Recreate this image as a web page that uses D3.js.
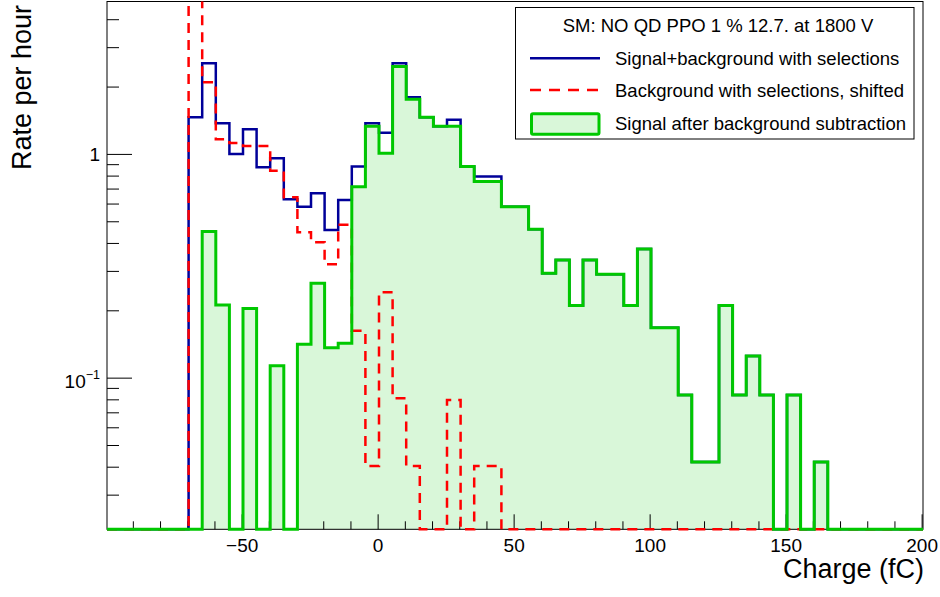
<!DOCTYPE html>
<html>
<head>
<meta charset="utf-8">
<script src="https://cdn.jsdelivr.net/npm/d3@7"></script>
<style>
  html, body { margin: 0; padding: 0; background: #fff; }
  svg { display: block; font-family: "Liberation Sans", Arial, Helvetica, sans-serif; }
</style>
</head>
<body>
<svg id="chart" width="940" height="597"></svg>
<script>
// ---- Binning: 60 bins of 5 fC, low edge of first bin at -99.5 fC ----
const binStart = -99.5;
const binWidth = 5;
const binCount = 60;
const chargeDomain = [-99.5, 200.5];
const rateDomain = [0.021, 4.8];

// Rate per hour in each bin
const signalPlusBackground = [
  0, 0, 0, 0, 0, 0, 1.46, 2.54, 1.37, 1.00,
  1.29, 0.872, 0.957, 0.627, 0.58, 0.667, 0.457, 0.623, 0.878, 1.37,
  1.245, 2.54, 1.79, 1.46, 1.33, 1.42, 0.878, 0.792, 0.792, 0.581,
  0.58, 0.461, 0.293, 0.336, 0.21, 0.336, 0.29, 0.29, 0.21, 0.376,
  0.167, 0.167, 0.0837, 0.042, 0.042, 0.21, 0.0837, 0.125, 0.0837, 0,
  0.0837, 0, 0.042, 0, 0, 0, 0, 0, 0, 0
];
const backgroundShifted = [
  0, 0, 0, 0, 0, 0, 6.0, 2.09, 1.163, 1.12,
  1.086, 1.086, 0.842, 0.64, 0.447, 0.403, 0.321, 0.482, 0.162, 0.0403,
  0.241, 0.0809, 0.0403, 0, 0, 0.0794, 0, 0.0403, 0.0403, 0,
  0, 0, 0, 0, 0, 0, 0, 0, 0, 0,
  0, 0, 0, 0, 0, 0, 0, 0, 0, 0,
  0, 0, 0, 0, 0, 0, 0, 0, 0, 0
];
const signalSubtracted = [
  0, 0, 0, 0, 0, 0, 0, 0.45, 0.211, 0,
  0.204, 0, 0.113, 0, 0.141, 0.264, 0.136, 0.1425, 0.714, 1.33,
  1.007, 2.456, 1.757, 1.46, 1.33, 1.33, 0.878, 0.752, 0.752, 0.581,
  0.58, 0.461, 0.293, 0.336, 0.21, 0.336, 0.29, 0.29, 0.21, 0.376,
  0.167, 0.167, 0.0837, 0.042, 0.042, 0.21, 0.0837, 0.125, 0.0837, 0,
  0.0837, 0, 0.042, 0, 0, 0, 0, 0, 0, 0
];

// ---- Axis ticks and text ----
const xMajorTicks = [-50, 0, 50, 100, 150, 200];
const xMinorTicks = d3.range(-90, 201, 10).filter(v => v % 50 !== 0);
const yMajorTicks = [0.1, 1];
const yMinorTicks = [0.03, 0.04, 0.05, 0.06, 0.07, 0.08, 0.09,
                     0.2, 0.3, 0.4, 0.5, 0.6, 0.7, 0.8, 0.9, 2, 3, 4];
const xTitle = "Charge (fC)";
const yTitle = "Rate per hour";
const legendHeader = "SM: NO QD PPO 1 % 12.7. at 1800 V";
const legendLabels = [
  "Signal+background with selections",
  "Background with selections, shifted",
  "Signal after background subtraction"
];

// ---- Styling ----
const colBlue = "#000099";
const colRed = "#ff0000";
const colGreen = "#00c800";
const colFill = "#d9f7d9";
const tickFont = 19;
const titleFont = 27;
const legendFont = 18.5;

// ---- Layout ----
const frame = { left: 107, right: 923, top: 1.5, bottom: 529.3 };
const svg = d3.select("#chart");

const x = d3.scaleLinear().domain(chargeDomain).range([frame.left, frame.right]);
const y = d3.scaleLog().domain(rateDomain).range([frame.bottom, frame.top]);

const edges = d3.range(binCount + 1).map(i => binStart + i * binWidth);
const stepPoints = values => {
  const pts = values.map((v, i) => [edges[i], v]);
  pts.push([edges[binCount], values[binCount - 1]]);
  return pts;
};
// empty bins sit on the frame floor of the log axis
const yPos = v => y(Math.max(v, rateDomain[0]));
const stepLine = d3.line().x(d => x(d[0])).y(d => yPos(d[1])).curve(d3.curveStepAfter);
const stepArea = d3.area().x(d => x(d[0])).y0(frame.bottom).y1(d => yPos(d[1])).curve(d3.curveStepAfter);

// clip overflowing bins at the top of the frame
svg.append("defs").append("clipPath").attr("id", "plotClip")
  .append("rect")
  .attr("x", frame.left - 2).attr("y", frame.top)
  .attr("width", frame.right - frame.left + 4)
  .attr("height", frame.bottom - frame.top + 4);

// ---- Filled subtracted-signal area ----
svg.append("path")
  .attr("clip-path", "url(#plotClip)")
  .attr("d", stepArea(stepPoints(signalSubtracted)))
  .attr("fill", colFill)
  .attr("stroke", "none");

// ---- Axes ----
const xAxisG = svg.append("g").attr("transform", `translate(0,${frame.bottom})`);
xAxisG.call(d3.axisBottom(x).tickValues(xMinorTicks).tickSizeInner(-8).tickSizeOuter(0).tickFormat(""))
  .call(g => g.select(".domain").remove());
const xAxisMajorG = svg.append("g").attr("transform", `translate(0,${frame.bottom})`);
xAxisMajorG.call(d3.axisBottom(x).tickValues(xMajorTicks).tickSizeInner(-15).tickSizeOuter(0)
    .tickPadding(9).tickFormat(d3.format("")))
  .call(g => g.select(".domain").remove())
  .call(g => g.selectAll("text").attr("font-size", tickFont).attr("font-family", null).attr("fill", "#000"));

const yAxisG = svg.append("g").attr("transform", `translate(${frame.left},0)`);
yAxisG.call(d3.axisLeft(y).tickValues(yMinorTicks).tickSizeInner(-12).tickSizeOuter(0).tickFormat(""))
  .call(g => g.select(".domain").remove());
const yAxisMajorG = svg.append("g").attr("transform", `translate(${frame.left},0)`);
yAxisMajorG.call(d3.axisLeft(y).tickValues(yMajorTicks).tickSizeInner(-25).tickSizeOuter(0)
    .tickPadding(7).tickFormat(d => d === 1 ? "1" : "10"))
  .call(g => g.select(".domain").remove())
  .call(g => g.selectAll("text").attr("font-size", tickFont).attr("font-family", null).attr("fill", "#000"));
// power-of-ten label for 0.1
yAxisMajorG.selectAll(".tick").filter(d => d === 0.1).select("text")
  .attr("dy", "0.5em")
  .append("tspan").attr("dy", -9).attr("font-size", 12.5).text("\u22121");

// frame
svg.append("rect")
  .attr("x", frame.left).attr("y", frame.top)
  .attr("width", frame.right - frame.left).attr("height", frame.bottom - frame.top)
  .attr("fill", "none").attr("stroke", "#000").attr("stroke-width", 1);

// ---- Histogram outlines ----
const lines = svg.append("g").attr("clip-path", "url(#plotClip)").attr("fill", "none");
lines.append("path")
  .attr("d", stepLine(stepPoints(signalPlusBackground)))
  .attr("stroke", colBlue).attr("stroke-width", 2.5);
lines.append("path")
  .attr("d", stepLine(stepPoints(backgroundShifted)))
  .attr("stroke", colRed).attr("stroke-width", 2.5).attr("stroke-dasharray", "10,7");
lines.append("path")
  .attr("d", stepLine(stepPoints(signalSubtracted)))
  .attr("stroke", colGreen).attr("stroke-width", 3);

// ---- Axis titles ----
svg.append("text")
  .attr("x", 924).attr("y", 577.5)
  .attr("text-anchor", "end").attr("font-size", titleFont).attr("fill", "#000")
  .text(xTitle);
svg.append("text")
  .attr("transform", "translate(30.7,5) rotate(-90)")
  .attr("text-anchor", "end").attr("font-size", titleFont).attr("fill", "#000")
  .text(yTitle);

// ---- Legend ----
const leg = svg.append("g");
leg.append("rect")
  .attr("x", 515.5).attr("y", 7.5).attr("width", 398.5).attr("height", 131.5)
  .attr("fill", "#fff").attr("stroke", "#000").attr("stroke-width", 1);
leg.append("text")
  .attr("x", 718).attr("y", 32).attr("text-anchor", "middle")
  .attr("font-size", legendFont).attr("fill", "#000").text(legendHeader);

const rowBase = [65, 97, 129.5];
leg.append("line")
  .attr("x1", 530).attr("x2", 600).attr("y1", 58.3).attr("y2", 58.3)
  .attr("stroke", colBlue).attr("stroke-width", 2.5);
leg.append("line")
  .attr("x1", 530).attr("x2", 600).attr("y1", 90).attr("y2", 90)
  .attr("stroke", colRed).attr("stroke-width", 2.5).attr("stroke-dasharray", "11,8");
leg.append("rect")
  .attr("x", 531.5).attr("y", 113.8).attr("width", 67.5).attr("height", 20.4).attr("rx", 1.5)
  .attr("fill", colFill).attr("stroke", colGreen).attr("stroke-width", 3);
leg.selectAll("text.entry").data(legendLabels).join("text")
  .attr("class", "entry")
  .attr("x", 615).attr("y", (d, i) => rowBase[i])
  .attr("font-size", legendFont).attr("fill", "#000")
  .text(d => d);
</script>
</body>
</html>
